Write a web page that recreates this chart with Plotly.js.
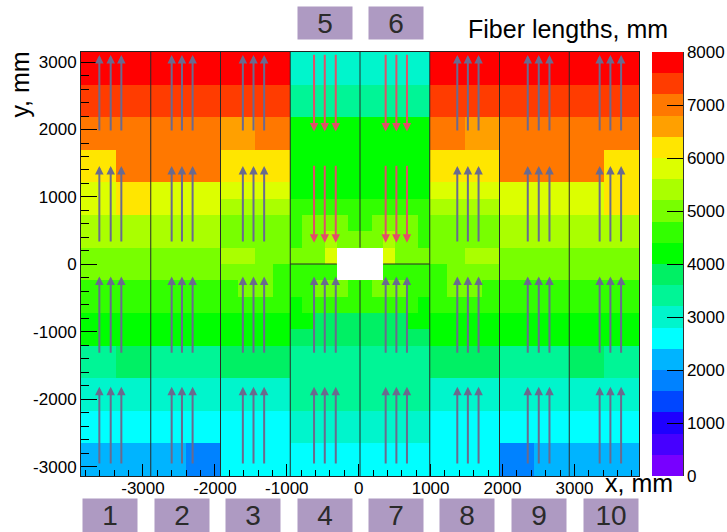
<!DOCTYPE html>
<html><head><meta charset="utf-8">
<script src="https://cdn.plot.ly/plotly-3.0.1.min.js"></script>
<style>html,body{margin:0;padding:0;background:#fff}#chart{width:727px;height:532px}</style>
</head><body><div id="chart"></div>
<script>
// ---- geometry of the histogram bins (mm) ----
const xEdges = [-3862,-3377,-2892,-2407,-1922,-1680,-1437,-1195,-952,-790,-629,-467,-305,-144,18,180,341,503,665,826,988,1231,1473,1716,1958,2443,2928,3413,3898];
const yEdges = [-3140,-2898,-2656,-2414,-2172,-1930,-1688,-1447,-1205,-963,-721,-479,-237,5,247,489,731,973,1215,1457,1699,1941,2182,2424,2666,2908,3150];

// ---- fiber lengths, mm (rows listed from top to bottom, null = beam hole) ----
const fiberRowsTopDown = [
 [7800,7800,7800,7800,7800,7800,7800,7800, 3000,3000,3000,3000,3000,3000, 3000,3000,3000,3000,3000,3000, 7800,7800,7800,7800,7800,7800,7800,7800],
 [7800,7800,7800,7800,7800,7800,7800,7800, 3000,3000,3000,3000,3000,3000, 3000,3000,3000,3000,3000,3000, 7800,7800,7800,7800,7800,7800,7800,7800],
 [7400,7400,7400,7400,7400,7400,7400,7400, 3400,3400,3400,3400,3400,3400, 3400,3400,3400,3400,3400,3400, 7400,7400,7400,7400,7400,7400,7400,7400],
 [7400,7400,7400,7400,7400,7400,7400,7400, 3400,3400,3400,3400,3400,3400, 3400,3400,3400,3400,3400,3400, 7400,7400,7400,7400,7400,7400,7400,7400],
 [7000,7000,7000,7000,6600,6600,7000,7000, 4200,4200,4200,4200,4200,4200, 4200,4200,4200,4200,4200,4200, 7000,7000,6600,6600,7000,7000,7000,7000],
 [7000,7000,7000,7000,6600,6600,7000,7000, 4200,4200,4200,4200,4200,4200, 4200,4200,4200,4200,4200,4200, 7000,7000,6600,6600,7000,7000,7000,7000],
 [6200,7000,7000,7000,6200,6200,6200,6200, 4200,4200,4200,4200,4200,4200, 4200,4200,4200,4200,4200,4200, 6200,6200,6200,6200,7000,7000,7000,6200],
 [6200,7000,7000,7000,6200,6200,6200,6200, 4200,4200,4200,4200,4200,4200, 4200,4200,4200,4200,4200,4200, 6200,6200,6200,6200,7000,7000,7000,6200],
 [5800,6200,5800,5800,5800,5800,5800,5800, 4200,4200,4200,4200,4200,4200, 4200,4200,4200,4200,4200,4200, 5800,5800,5800,5800,5800,5800,5800,6200],
 [5800,6200,5800,5800,5400,5400,5400,5400, 4600,4600,4600,4600,4600,4600, 4600,4600,4600,4600,4600,4600, 5400,5400,5400,5400,5800,5800,5800,6200],
 [5400,5400,5400,5400,5000,5000,5000,5000, 4600,5000,5000,5000,5000,4600, 4600,5000,5000,5000,5000,4600, 5000,5000,5000,5000,5400,5400,5400,5400],
 [5400,5400,5400,5400,5000,5000,5000,5000, 4600,5000,5000,5400,5000,5000, 5000,5000,5400,5000,5000,4600, 5000,5000,5000,5000,5400,5400,5400,5400],
 [5000,5000,5000,5000,5400,5400,5000,5000, 5000,5000,5000,5800,null,null, null,null,5800,5000,5000,5000, 5000,5000,5400,5400,5000,5000,5000,5000],
 [5000,5000,5000,5000,5000,5000,5000,4600, 4600,4600,4600,4600,null,null, null,null,4600,4600,4600,4600, 4600,5000,5000,5000,5000,5000,5000,5000],
 [4600,4600,4600,4600,4600,5000,5000,4600, 4600,4600,5000,5000,5000,4600, 4600,5000,5000,5000,4600,4600, 4600,5000,5000,4600,4600,4600,4600,4600],
 [4600,4600,4600,4600,4600,4600,4600,4600, 4200,4600,4600,4600,4600,4600, 4600,4600,4600,4600,4600,4200, 4600,4600,4600,4600,4600,4600,4600,4600],
 [4200,4200,4200,4200,4200,4200,4200,4200, 4200,4200,3800,3800,3800,3800, 3800,3800,3800,3800,4200,4200, 4200,4200,4200,4200,4200,4200,4200,4200],
 [4200,4200,4200,4200,4200,4200,4200,4200, 3800,3800,3800,3800,3800,3800, 3800,3800,3800,3800,3800,3800, 4200,4200,4200,4200,4200,4200,4200,4200],
 [3400,3800,3400,3400,3800,3800,3800,3800, 3400,3400,3400,3400,3400,3400, 3400,3400,3400,3400,3400,3400, 3800,3800,3800,3800,3400,3400,3800,3400],
 [3400,3800,3400,3400,3800,3800,3800,3800, 3400,3400,3400,3400,3400,3400, 3400,3400,3400,3400,3400,3400, 3800,3800,3800,3800,3400,3400,3800,3400],
 [3000,3000,3000,3000,3000,3000,3000,3000, 3400,3400,3400,3400,3400,3400, 3400,3400,3400,3400,3400,3400, 3000,3000,3000,3000,3000,3000,3000,3000],
 [3000,3000,3000,3000,3000,3000,3000,3000, 3400,3400,3400,3400,3400,3400, 3400,3400,3400,3400,3400,3400, 3000,3000,3000,3000,3000,3000,3000,3000],
 [2600,2600,2600,2600,2600,2600,2600,2600, 3000,3000,3000,3000,3000,3000, 3000,3000,3000,3000,3000,3000, 2600,2600,2600,2600,2600,2600,2600,2600],
 [2600,2600,2600,2600,2600,2600,2600,2600, 3000,3000,3000,3000,3000,3000, 3000,3000,3000,3000,3000,3000, 2600,2600,2600,2600,2600,2600,2600,2600],
 [2200,2200,2200,1800,2600,2600,2600,2600, 2600,2600,2600,2600,2600,2600, 2600,2600,2600,2600,2600,2600, 2600,2600,2600,2600,1800,2200,2200,2200],
 [2200,2200,2200,1800,2600,2600,2600,2600, 2600,2600,2600,2600,2600,2600, 2600,2600,2600,2600,2600,2600, 2600,2600,2600,2600,1800,2200,2200,2200]
];

// ---- palette (20 levels, 0..8000 mm) ----
const levelColors = ['#7800ff','#4600ff','#1e00ff','#0046ff','#0082ff','#00b4ff','#00ffff','#00f5cc','#00f596','#00f064','#00ff00','#32ff00','#78ff00','#aaff00','#dcff00','#ffe600','#ffa000','#ff7800','#ff3c00','#ff0000'];
const colorTicks = [0,1000,2000,3000,4000,5000,6000,7000,8000];
const colorTickText = ['0','1000','2000','3000','4000','5000','6000','7000','8000'];

// ---- axes ----
const xTicks = [-3000,-2000,-1000,0,1000,2000,3000];
const xTickText = ['-3000','-2000','-1000','0','1000','2000','3000'];
const yTicks = [-3000,-2000,-1000,0,1000,2000,3000];
const yTickText = ['-3000','-2000','-1000','0','1000','2000','3000'];

// ---- module boundaries (mm) ----
const moduleX = [-2892,-1922,-952,988,1958,2928];
const centerX = 18;
const holeX = [-305,341];
const holeY = [-237,247];
const midY = 5;

// ---- fibre direction arrows (mm) ----
const outerArrowX = [-3607,-3449,-3301,-2601,-2458,-2310,-1611,-1463,-1315,1371,1518,1667,2351,2504,2653,3351,3500,3649];
const centerArrowX = [-621,-472,-319,375,524,671];
const upSpans = [[1964,3107],[318,1460],[-1334,-182],[-2976,-1815]];   // [tail, tip]
const downSpans = [[3132,1969],[1485,322]];

// ---- module labels ----
const bottomLabels = ['1','2','3','4','7','8','9','10'];
const bottomLabelX = [0.05197,0.18047,0.30878,0.43638,0.56452,0.69265,0.82079,0.94928];
const topLabels = ['5','6'];
const topLabelX = [0.43638,0.56452];

const FONT = 'Liberation Sans, Arial, Helvetica, sans-serif';

const z = fiberRowsTopDown.slice().reverse();
const colorscale = [];
levelColors.forEach((c,i)=>{ colorscale.push([i/20,c]); colorscale.push([(i+1)/20,c]); });

const trace = {
  type:'heatmap', x:xEdges, y:yEdges, z:z, zmin:0, zmax:8000, colorscale:colorscale,
  hoverongaps:false, zsmooth:false,
  colorbar:{
    thickness:31, thicknessmode:'pixels', len:423.5, lenmode:'pixels',
    x:652.3/727, xref:'container', xanchor:'left', xpad:0,
    y:0, yref:'paper', yanchor:'bottom', ypad:0,
    outlinewidth:0, ticks:'inside', ticklen:16, tickwidth:1, tickcolor:'#000',
    tickvals:colorTicks, ticktext:colorTickText,
    tickfont:{size:17, family:FONT, color:'#000'}
  }
};

const lineStyle = {color:'#2a2a2a', width:1};
const shapes = [];
moduleX.forEach(x=>shapes.push({type:'line', xref:'x', yref:'y', x0:x, x1:x, y0:yEdges[0], y1:yEdges[yEdges.length-1], line:lineStyle, layer:'above'}));
shapes.push({type:'line', xref:'x', yref:'y', x0:centerX, x1:centerX, y0:holeY[1], y1:yEdges[yEdges.length-1], line:lineStyle, layer:'above'});
shapes.push({type:'line', xref:'x', yref:'y', x0:centerX, x1:centerX, y0:yEdges[0], y1:holeY[0], line:lineStyle, layer:'above'});
shapes.push({type:'line', xref:'x', yref:'y', x0:moduleX[2], x1:holeX[0], y0:midY, y1:midY, line:lineStyle, layer:'above'});
shapes.push({type:'line', xref:'x', yref:'y', x0:holeX[1], x1:moduleX[3], y0:midY, y1:midY, line:lineStyle, layer:'above'});
// colour bar axis line (right edge of the bar)
shapes.push({type:'line', xref:'paper', yref:'paper', x0:(683.3-81)/558, x1:(683.3-81)/558, y0:0, y1:1, line:{color:'#000',width:1}});

const annotations = [];
function arrow(x, tail, tip, color){
  annotations.push({xref:'x', yref:'y', axref:'x', ayref:'y', x:x, y:tip, ax:x, ay:tail, text:'',
    showarrow:true, arrowhead:2, arrowsize:0.85, arrowwidth:2, arrowcolor:color, standoff:0});
}
const UP = '#6a6a8e', DOWN = '#e05068';
outerArrowX.forEach(x=>upSpans.forEach(s=>arrow(x,s[0],s[1],UP)));
centerArrowX.forEach(x=>upSpans.slice(2).forEach(s=>arrow(x,s[0],s[1],UP)));
centerArrowX.forEach(x=>downSpans.forEach(s=>arrow(x,s[0],s[1],DOWN)));

function box(text, x, y, h){
  annotations.push({xref:'paper', yref:'paper', x:x, y:y, xanchor:'center', yanchor:'middle', text:text, showarrow:false,
    width:54, height:h, bgcolor:'#ae9ac2', borderpad:0, font:{size:28, color:'#2b2b2b', family:FONT}});
}
bottomLabels.forEach((t,i)=>box(t, bottomLabelX[i], -0.09375, 33));
topLabels.forEach((t,i)=>box(t, topLabelX[i], 1.06875, 32));

annotations.push({xref:'paper', yref:'paper', x:0.8719, y:1.0531, xanchor:'center', yanchor:'middle', text:'Fiber lengths, mm', showarrow:false, font:{size:25, color:'#000', family:FONT}});
annotations.push({xref:'paper', yref:'paper', x:1.0, y:-0.0175, xanchor:'center', yanchor:'middle', text:'x, mm', showarrow:false, font:{size:25, color:'#000', family:FONT}});
annotations.push({xref:'paper', yref:'paper', x:-0.1093, y:0.9233, xanchor:'center', yanchor:'middle', text:'y, mm', textangle:-90, showarrow:false, font:{size:25, color:'#000', family:FONT}});

const axisCommon = {showgrid:false, zeroline:false, showline:true, mirror:true, linecolor:'#222', linewidth:1,
  ticks:'inside', tickwidth:1, tickcolor:'#000', tickfont:{size:17, family:FONT, color:'#000'}};

const layout = {
  width:727, height:532, margin:{l:81, r:88, t:52, b:56, pad:0, autoexpand:false},
  paper_bgcolor:'#fff', plot_bgcolor:'#fff', showlegend:false,
  xaxis:Object.assign({}, axisCommon, {range:[xEdges[0], xEdges[xEdges.length-1]], tickmode:'array', tickvals:xTicks, ticktext:xTickText, ticklen:12, ticklabelstandoff:-3,
    minor:{dtick:200, tick0:0, ticks:'inside', ticklen:6, tickwidth:1, tickcolor:'#000', showgrid:false}}),
  yaxis:Object.assign({}, axisCommon, {range:[yEdges[0], yEdges[yEdges.length-1]], tickmode:'array', tickvals:yTicks, ticktext:yTickText, ticklen:16,
    minor:{dtick:200, tick0:0, ticks:'inside', ticklen:8, tickwidth:1, tickcolor:'#000', showgrid:false}}),
  shapes:shapes, annotations:annotations
};

Plotly.newPlot('chart', [trace], layout, {displayModeBar:false, staticPlot:true});
</script></body></html>
